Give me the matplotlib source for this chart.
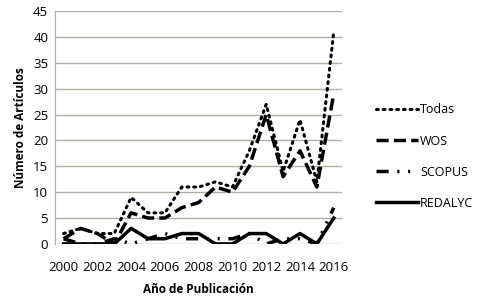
import matplotlib.pyplot as plt
import numpy as np

# Datos
years = list(range(2000, 2017))
todas = [2, 3, 2, 2, 9, 6, 6, 11, 11, 12, 11, 18, 27, 14, 24, 12, 41]
wos = [1, 3, 2, 0, 6, 5, 5, 7, 8, 11, 10, 15, 25, 13, 18, 11, 29]
scopus = [1, 0, 0, 1, 0, 1, 2, 1, 1, 1, 1, 2, 0, 1, 1, 0, 7]
redalyc = [0, 0, 0, 0, 3, 1, 1, 2, 2, 0, 0, 2, 2, 0, 2, 0, 5]
tick_years = list(range(2000, 2017, 2))

plt.rcParams['font.family'] = ['Open Sans', 'DejaVu Sans']

fig = plt.figure(figsize=(4.84, 3.0), dpi=100)
ax = fig.add_axes([0.114, 0.187, 0.593, 0.776])

ax.plot(years, todas, color='black', lw=2.2, linestyle=(0, (0.6, 1.6)),
        dash_capstyle='round', label='Todas')
ax.plot(years, wos, color='black', lw=2.5, linestyle=(0, (3.5, 1.5)), label='WOS')
ax.plot(years, scopus, color='black', lw=2.5, linestyle=(0, (3.5, 2.5, 0.6, 2.5, 0.6, 2.5)),
        label='SCOPUS')
ax.plot(years, redalyc, color='black', lw=2.5, label='REDALYC')

ax.set_ylim(0, 45)
ax.set_xlim(1999.5, 2016.5)
ax.set_yticks(range(0, 46, 5))
ax.set_xticks(tick_years)
ax.yaxis.grid(True, color='#b5aca2', lw=1)
ax.set_axisbelow(True)
ax.tick_params(length=0, labelsize=9.5, pad=5)
ax.tick_params(axis='x', pad=12)
for s in ['top', 'right', 'bottom']:
    ax.spines[s].set_visible(False)
ax.spines['left'].set_color('#b5aca2')

ax.set_xlabel('Año de Publicación', fontsize=8.5, fontweight='bold', labelpad=7)
ax.set_ylabel('Número de Artículos', fontsize=8.5, fontweight='bold', labelpad=4)

ax.legend(loc='center left', bbox_to_anchor=(1.08, 0.375), frameon=False, fontsize=9,
          handlelength=3.3, labelspacing=1.45, handletextpad=0.2)

fig.savefig('out.png', dpi=100)
